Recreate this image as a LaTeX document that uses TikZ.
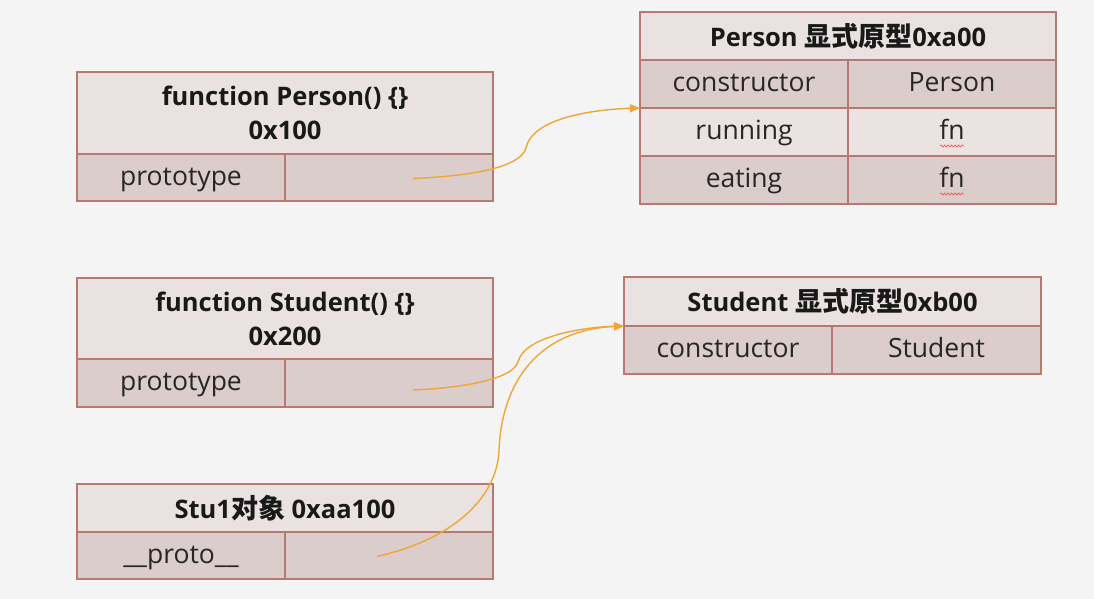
\documentclass[tikz,border=0pt]{standalone}
\usepackage{fontspec}
\setmainfont{Open Sans}
\newfontfamily\cjk{Noto Sans CJK SC}
\usetikzlibrary{arrows.meta,decorations.pathmorphing}
\definecolor{bgc}{HTML}{F4F4F4}
\definecolor{hdc}{HTML}{EAE1E1}
\definecolor{rwd}{HTML}{DACDCB}
\definecolor{rwl}{HTML}{EBE2E2}
\definecolor{bdc}{HTML}{B87A70}
\definecolor{arc}{HTML}{EFA637}
\tikzset{
  cell/.style={draw=bdc, line width=1.3pt, anchor=north west, inner sep=0pt, outer sep=0pt, font=\fontsize{26.5}{30}\selectfont, text=black!85, text height=19pt, text depth=4pt},
  head/.style={draw=bdc, line width=1.3pt, anchor=north west, inner sep=0pt, outer sep=0pt, text=black!90, fill=hdc, font=\fontsize{25.5}{34}\selectfont\bfseries, align=center},
  dark/.style={cell, fill=rwd},
  light/.style={cell, fill=rwl},
  link/.style={draw=arc, line width=1.4pt, -{Triangle[length=10pt,width=8pt]}},
  spell/.style={draw=red!70, line width=0.6pt, decorate, decoration={snake, amplitude=1.1pt, segment length=3.5pt}}
}
\begin{document}
\begin{tikzpicture}[x=1pt,y=-1pt]
\fill[bgc] (0,0) rectangle (1094,599);
\useasboundingbox (0,0) rectangle (1094,599);
% function Person
\node[head, minimum width=416pt, minimum height=82pt] (pfh) at (77,72) {function Person() \{\}\\0x100};
\node[dark, minimum width=208pt, minimum height=47pt] (pfk) at (77,154) {prototype};
\node[dark, minimum width=208pt, minimum height=47pt] (pfv) at (285,154) {};
% Person prototype
\node[head, minimum width=416pt, minimum height=48pt] (pph) at (640,12) {Person {\cjk\bfseries\fontsize{27}{34}\selectfont 显式原型}0xa00};
\node[dark, minimum width=208pt, minimum height=48pt] (pp1k) at (640,60) {constructor};
\node[dark, minimum width=208pt, minimum height=48pt] (pp1v) at (848,60) {Person};
\node[light, minimum width=208pt, minimum height=48pt] (pp2k) at (640,108) {running};
\node[light, minimum width=208pt, minimum height=48pt] (pp2v) at (848,108) {fn};
\node[dark, minimum width=208pt, minimum height=48pt] (pp3k) at (640,156) {eating};
\node[dark, minimum width=208pt, minimum height=48pt] (pp3v) at (848,156) {fn};
% function Student
\node[head, minimum width=416pt, minimum height=81pt] (sfh) at (77,278) {function Student() \{\}\\0x200};
\node[dark, minimum width=208pt, minimum height=48pt] (sfk) at (77,359) {prototype};
\node[dark, minimum width=208pt, minimum height=48pt] (sfv) at (285,359) {};
% Student prototype
\node[head, minimum width=417pt, minimum height=49pt] (sph) at (624,277) {Student {\cjk\bfseries\fontsize{27}{34}\selectfont 显式原型}0xb00};
\node[dark, minimum width=208pt, minimum height=48pt] (sp1k) at (624,326) {constructor};
\node[dark, minimum width=209pt, minimum height=48pt] (sp1v) at (832,326) {Student};
% Stu1
\node[head, minimum width=416pt, minimum height=48pt] (oh) at (77,484) {Stu1{\cjk\bfseries\fontsize{27}{34}\selectfont 对象} 0xaa100};
\node[dark, minimum width=208pt, minimum height=47pt] (ok) at (77,532) {\_\_proto\_\_};
\node[dark, minimum width=208pt, minimum height=47pt] (ov) at (285,532) {};
% spell-check squiggles
\draw[spell] ([xshift=-12pt,yshift=-14pt]pp2v.center) -- ([xshift=12pt,yshift=-14pt]pp2v.center);
\draw[spell] ([xshift=-12pt,yshift=-14pt]pp3v.center) -- ([xshift=12pt,yshift=-14pt]pp3v.center);
% connectors
\coordinate (a1) at ([xshift=24pt,yshift=-1pt]pfv.center);
\coordinate (a2) at ([xshift=24pt,yshift=-7pt]sfv.center);
\coordinate (a3) at ([xshift=-12pt,yshift=-1pt]ov.center);
\draw[link] (a1) .. controls (470,176) and (520,168) .. (526,148) .. controls (531,122) and (580,110) .. (pp2k.north west);
\draw[link] (a2) .. controls (460,388) and (512,380) .. (518,362) .. controls (524,336) and (585,327) .. (sp1k.north west);
\draw[link] (a3) .. controls (450,540) and (497,500) .. (499,450) .. controls (502,380) and (540,330) .. (sp1k.north west);
\end{tikzpicture}
\end{document}
